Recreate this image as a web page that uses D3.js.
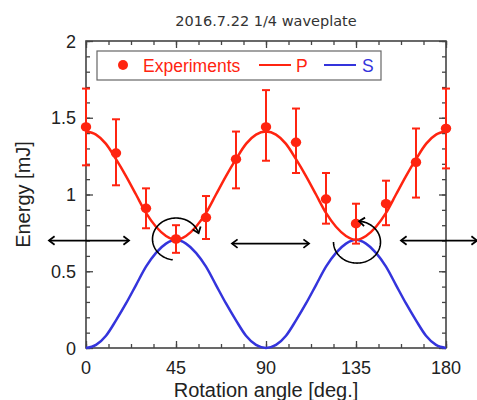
<!DOCTYPE html>
<html>
<head>
<meta charset="utf-8">
<script src="https://cdnjs.cloudflare.com/ajax/libs/d3/7.8.5/d3.min.js"></script>
<style>
  body { margin: 0; background: #fff; }
  text { font-family: "Liberation Sans", Arial, sans-serif; }
</style>
</head>
<body>
<div id="chart"></div>
<script>
// measured points (every 15 deg)
var angles = [0, 15, 30, 45, 60, 75, 90, 105, 120, 135, 150, 165, 180];
var energy = [1.44, 1.27, 0.91, 0.71, 0.85, 1.23, 1.44, 1.34, 0.97, 0.81, 0.94, 1.21, 1.43];
var errLow = [1.19, 1.06, 0.78, 0.62, 0.71, 1.04, 1.22, 1.14, 0.81, 0.68, 0.80, 0.98, 1.17];
var errHigh = [1.69, 1.49, 1.04, 0.80, 0.99, 1.41, 1.68, 1.56, 1.14, 0.94, 1.09, 1.43, 1.69];

// fitted curves (every 5 deg)
var fitAngles = [0, 5, 10, 15, 20, 25, 30, 35, 40, 45, 50, 55, 60, 65, 70, 75, 80, 85, 90,
  95, 100, 105, 110, 115, 120, 125, 130, 135, 140, 145, 150, 155, 160, 165, 170, 175, 180];
var fitP = [1.41, 1.39, 1.33, 1.23, 1.12, 1.00, 0.88, 0.79, 0.73, 0.705, 0.73, 0.79, 0.88, 1.00, 1.12, 1.23, 1.33, 1.39, 1.41,
  1.39, 1.33, 1.23, 1.12, 1.00, 0.88, 0.79, 0.73, 0.705, 0.73, 0.79, 0.88, 1.00, 1.12, 1.23, 1.33, 1.39, 1.41];
var fitS = [0, 0.02, 0.08, 0.18, 0.29, 0.41, 0.53, 0.62, 0.68, 0.705, 0.68, 0.62, 0.53, 0.41, 0.29, 0.18, 0.08, 0.02, 0,
  0.02, 0.08, 0.18, 0.29, 0.41, 0.53, 0.62, 0.68, 0.705, 0.68, 0.62, 0.53, 0.41, 0.29, 0.18, 0.08, 0.02, 0];

var xTicks = [0, 45, 90, 135, 180];
var yTicks = [0, 0.5, 1, 1.5, 2];

// annotations (data units)
var polArrows = [
  { x0: -18.5, x1: 21.5, y: 0.70 },
  { x0: 73, x1: 111.5, y: 0.68 },
  { x0: 157.5, x1: 195.5, y: 0.70 }
];
var rotArcs = [
  { x: 45, y: 0.71, a0: 98, a1: 344 },
  { x: 135.5, y: 0.69, a0: 180, a1: -85 }
];

var svgWidth = 477;
var svgHeight = 400;
var margin = { top: 41, right: 31, bottom: 52, left: 86 };
var width = svgWidth - margin.left - margin.right;
var height = svgHeight - margin.top - margin.bottom;

var red = "#ff2410";
var blue = "#3434dc";
var frame = "#444";

var svg = d3.select("#chart")
  .append("svg")
  .attr("width", svgWidth)
  .attr("height", svgHeight);

var chartGroup = svg.append("g")
  .attr("transform", `translate(${margin.left}, ${margin.top})`);

var x = d3.scaleLinear().domain([0, 180]).range([0, width]);
var y = d3.scaleLinear().domain([0, 2]).range([height, 0]);

// title
svg.append("text")
  .attr("x", margin.left + width / 2)
  .attr("y", 26)
  .attr("text-anchor", "middle")
  .style("font-family", "'DejaVu Sans', sans-serif")
  .style("font-size", "14.5px")
  .attr("fill", "#333")
  .text("2016.7.22 1/4 waveplate");

// frame with inward ticks on all sides
function tickAxis(axisFn, scale, ticks, len, transform) {
  chartGroup.append("g")
    .attr("transform", transform)
    .call(axisFn(scale).tickValues(ticks).tickSize(len).tickFormat(""))
    .call(g => g.select(".domain").remove())
    .selectAll("line").attr("stroke", frame).attr("stroke-width", 1.3);
}
var xMinor = d3.range(0, 180.01, 11.25);
var yMinor = d3.range(0, 2.001, 0.1);
tickAxis(d3.axisTop, x, xMinor, 4, `translate(0, ${height})`);
tickAxis(d3.axisTop, x, xTicks, 7, `translate(0, ${height})`);
tickAxis(d3.axisBottom, x, xMinor, 4, "translate(0, 0)");
tickAxis(d3.axisBottom, x, xTicks, 7, "translate(0, 0)");
tickAxis(d3.axisRight, y, yMinor, 4, "translate(0, 0)");
tickAxis(d3.axisRight, y, yTicks, 7, "translate(0, 0)");
tickAxis(d3.axisLeft, y, yMinor, 4, `translate(${width}, 0)`);
tickAxis(d3.axisLeft, y, yTicks, 7, `translate(${width}, 0)`);

chartGroup.append("rect")
  .attr("width", width)
  .attr("height", height)
  .attr("fill", "none")
  .attr("stroke", frame)
  .attr("stroke-width", 1.6);

// tick labels
chartGroup.selectAll(".xlab")
  .data(xTicks)
  .enter()
  .append("text")
  .attr("x", d => x(d))
  .attr("y", height + 26)
  .attr("text-anchor", "middle")
  .style("font-size", "18px")
  .attr("fill", "#222")
  .text(d => d);

chartGroup.selectAll(".ylab")
  .data(yTicks)
  .enter()
  .append("text")
  .attr("x", -10)
  .attr("y", d => y(d) + 6.5)
  .attr("text-anchor", "end")
  .style("font-size", "18px")
  .attr("fill", "#222")
  .text(d => d);

// axis titles
chartGroup.append("text")
  .attr("x", width / 2)
  .attr("y", height + 49)
  .attr("text-anchor", "middle")
  .style("font-size", "20px")
  .attr("fill", "#222")
  .text("Rotation angle [deg.]");

svg.append("text")
  .attr("transform", `translate(30, ${margin.top + height / 2}) rotate(-90)`)
  .attr("text-anchor", "middle")
  .style("font-size", "20px")
  .attr("fill", "#222")
  .text("Energy [mJ]");

// fitted curves
var sLine = d3.line()
  .x((d, i) => x(fitAngles[i]))
  .y(d => y(d))
  .curve(d3.curveMonotoneX);

chartGroup.append("path")
  .datum(fitS)
  .attr("d", sLine)
  .attr("fill", "none")
  .attr("stroke", blue)
  .attr("stroke-width", 2.5);

chartGroup.append("path")
  .datum(fitP)
  .attr("d", sLine)
  .attr("fill", "none")
  .attr("stroke", red)
  .attr("stroke-width", 2.5);

// error bars
var bars = chartGroup.selectAll(".err")
  .data(angles)
  .enter()
  .append("g");
bars.append("line")
  .attr("x1", d => x(d)).attr("x2", d => x(d))
  .attr("y1", (d, i) => y(errLow[i])).attr("y2", (d, i) => y(errHigh[i]))
  .attr("stroke", red).attr("stroke-width", 2);
bars.append("line")
  .attr("x1", d => x(d) - 4).attr("x2", d => x(d) + 4)
  .attr("y1", (d, i) => y(errLow[i])).attr("y2", (d, i) => y(errLow[i]))
  .attr("stroke", red).attr("stroke-width", 2);
bars.append("line")
  .attr("x1", d => x(d) - 4).attr("x2", d => x(d) + 4)
  .attr("y1", (d, i) => y(errHigh[i])).attr("y2", (d, i) => y(errHigh[i]))
  .attr("stroke", red).attr("stroke-width", 2);

chartGroup.selectAll(".pt")
  .data(angles)
  .enter()
  .append("ellipse")
  .attr("cx", d => x(d))
  .attr("cy", (d, i) => y(energy[i]))
  .attr("rx", 5.2)
  .attr("ry", 4.8)
  .attr("fill", red);

// arrowhead helper: open chevron at tip pointing along angle ang
function arrowHead(g, tx, ty, ang) {
  var len = 7, spread = 0.65;
  var pts = [
    [tx - len * Math.cos(ang - spread), ty - len * Math.sin(ang - spread)],
    [tx, ty],
    [tx - len * Math.cos(ang + spread), ty - len * Math.sin(ang + spread)]
  ];
  g.append("path")
    .attr("d", d3.line()(pts))
    .attr("fill", "none")
    .attr("stroke", "#000")
    .attr("stroke-width", 1.8);
}

// polarization arrows
var annot = svg.append("g").attr("transform", `translate(${margin.left}, ${margin.top})`);
polArrows.forEach(function(a) {
  var x0 = x(a.x0), x1 = x(a.x1), yy = y(a.y);
  annot.append("line")
    .attr("x1", x0).attr("x2", x1)
    .attr("y1", yy).attr("y2", yy)
    .attr("stroke", "#000").attr("stroke-width", 1.8);
  arrowHead(annot, x0, yy, Math.PI);
  arrowHead(annot, x1, yy, 0);
});

// rotation arcs
rotArcs.forEach(function(r) {
  var cx = x(r.x), cy = y(r.y), rx = 23.5, ry = 21;
  var pts = d3.range(0, 1.0001, 0.01).map(function(t) {
    var a = (r.a0 + (r.a1 - r.a0) * t) * Math.PI / 180;
    return [cx + rx * Math.cos(a), cy + ry * Math.sin(a)];
  });
  annot.append("path")
    .attr("d", d3.line()(pts))
    .attr("fill", "none")
    .attr("stroke", "#000")
    .attr("stroke-width", 1.6);
  var n = pts.length;
  var tip = pts[n - 1], prev = pts[n - 3];
  arrowHead(annot, tip[0], tip[1], Math.atan2(tip[1] - prev[1], tip[0] - prev[0]));
});

// legend
var legend = svg.append("g");
legend.append("rect")
  .attr("x", 97).attr("y", 51)
  .attr("width", 284).attr("height", 29)
  .attr("fill", "#fff")
  .attr("stroke", "#666").attr("stroke-width", 1.2);
legend.append("circle")
  .attr("cx", 123).attr("cy", 65).attr("r", 5)
  .attr("fill", red);
legend.append("text")
  .attr("x", 143).attr("y", 71.5)
  .style("font-size", "17.5px")
  .attr("fill", red)
  .text("Experiments");
legend.append("line")
  .attr("x1", 259).attr("x2", 291).attr("y1", 65).attr("y2", 65)
  .attr("stroke", red).attr("stroke-width", 2);
legend.append("text")
  .attr("x", 296).attr("y", 71.5)
  .style("font-size", "17.5px")
  .attr("fill", red)
  .text("P");
legend.append("line")
  .attr("x1", 324).attr("x2", 356).attr("y1", 65).attr("y2", 65)
  .attr("stroke", blue).attr("stroke-width", 2);
legend.append("text")
  .attr("x", 362).attr("y", 71.5)
  .style("font-size", "17.5px")
  .attr("fill", blue)
  .text("S");
</script>
</body>
</html>
